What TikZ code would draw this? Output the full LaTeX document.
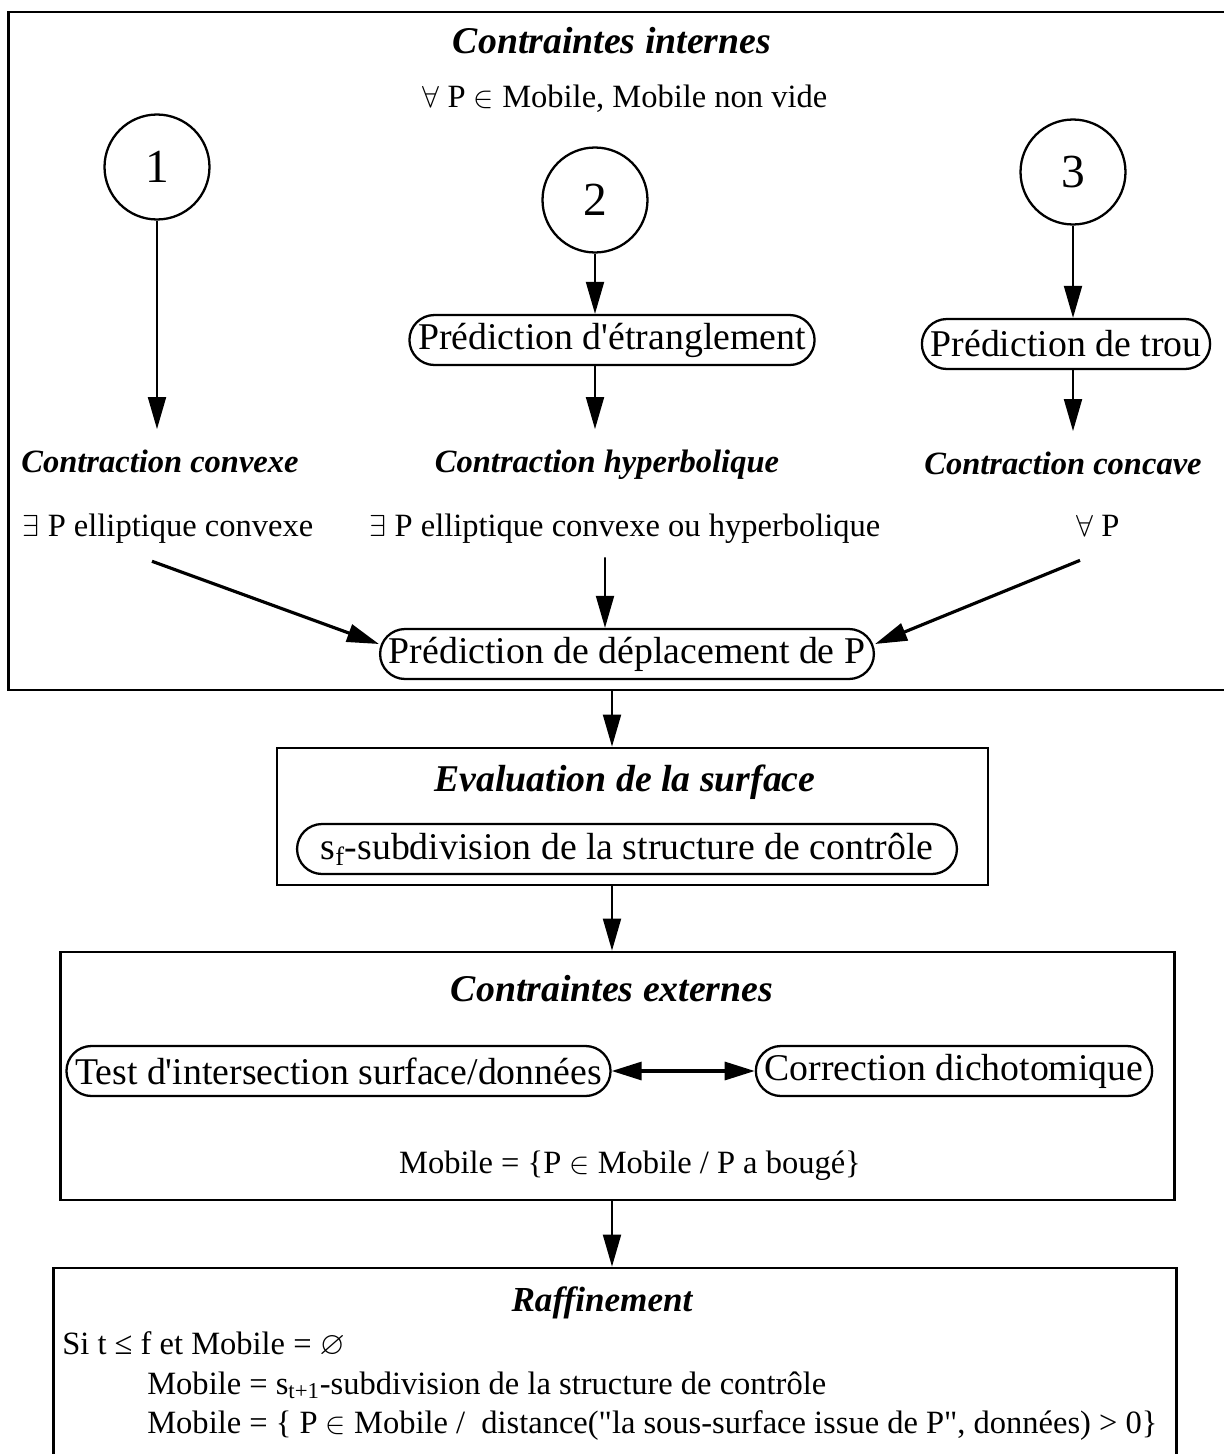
\documentclass[tikz,border=0pt]{standalone}
\usepackage{amssymb}
\usepackage{fontspec}
\setmainfont{Liberation Serif}
\usetikzlibrary{arrows.meta}
\newcommand{\dgfont}{\fontsize{21.5}{26}\selectfont}
\newcommand{\dgsmall}{\fontsize{18.5}{22}\selectfont}

\begin{document}
\begin{tikzpicture}[x=0.02cm,y=-0.02cm,
  every node/.style={font=\dgfont},
  frame/.style={draw,line width=1.6pt,inner sep=0pt},
  numcirc/.style={draw,circle,line width=1.3pt,minimum size=2.1cm,inner sep=0pt,font=\fontsize{27}{30}\selectfont},
  pill/.style={draw,rounded corners=0.5cm,line width=1.3pt,minimum height=1cm,inner xsep=5pt,inner ysep=0pt},
  head/.style={font=\dgfont\bfseries\itshape},
  smallhead/.style={font=\dgsmall\bfseries\itshape},
  txt/.style={inner sep=0pt,anchor=base},
  small/.style={font=\dgsmall},
  flow/.style={line width=1.1pt,-{Triangle[length=0.64cm,width=0.36cm]}},
  heavyflow/.style={flow,line width=1.8pt},
  twoway/.style={line width=1.8pt,{Triangle[length=0.6cm,width=0.36cm]}-{Triangle[length=0.6cm,width=0.36cm]}}]
\useasboundingbox (0,0) rectangle (1224,1454);
\coordinate (axis) at (612,0);

% contraintes internes
\node[frame,minimum width=24.64cm,minimum height=13.56cm] (fInt) at (624,351) {};
\node[txt,head] (tInt) at (612,53) {Contraintes internes};
\node[txt,small] (all) at (625,107) {$\forall$ P $\in$ Mobile, Mobile non vide};
\node[numcirc] (c1) at (157,167) {1};
\node[numcirc] (c2) at (595,200) {2};
\node[numcirc] (c3) at (1073,172) {3};
\node[pill] (etr) at (612,340) {Prédiction d\textquotesingle étranglement};
\node[pill] (trou) at (1066,344) {Prédiction de trou};
\node[txt,smallhead] (cvx) at (160,472) {Contraction convexe};
\node[txt,smallhead] (hyp) at (607,472) {Contraction hyperbolique};
\node[txt,smallhead] (ccv) at (1063,474) {Contraction concave};
\node[txt,small] (ex1) at (168,536) {$\exists$ P elliptique convexe};
\node[txt,small] (ex2) at (625,536) {$\exists$ P elliptique convexe ou hyperbolique};
\node[txt,small] (fa) at (1098,536) {$\forall$ P};
\node[pill] (depl) at (627,654) {Prédiction de déplacement de P};

\draw[flow,shorten >=0.4cm] (c1.south) -- (c1 |- cvx.north);
\draw[flow] (c2.south) -- (c2.south |- etr.north);
\draw[flow,shorten >=0.4cm] (etr.south -| c2) -- (c2 |- hyp.north);
\draw[flow] (c3.south) -- (c3.south |- trou.north);
\draw[flow,shorten >=0.4cm] (trou.south -| c3) -- (c3 |- ccv.north);
\draw[heavyflow] ([xshift=-0.32cm,yshift=-0.36cm]ex1.south) -- ([yshift=0.2cm]depl.west);
\draw[flow] ([xshift=-0.4cm,yshift=-0.28cm]ex2.south) -- ([xshift=-0.44cm]depl.north);
\draw[heavyflow] ([xshift=-0.36cm,yshift=-0.48cm]fa.south) -- ([yshift=0.2cm]depl.east);

% evaluation
\node[frame,minimum width=14.22cm,minimum height=2.74cm] (fEval) at (632.5,816.5) {};
\node[txt,head] (tEval) at (625,791) {Evaluation de la surface};
\node[pill,minimum width=13.2cm] (sub) at (627,849) {s\textsubscript{f}-subdivision de la structure de contrôle};

% contraintes externes
\node[frame,minimum width=22.3cm,minimum height=4.96cm] (fExt) at (617.5,1076) {};
\node[txt,head] (tExt) at (612,1001) {Contraintes externes};
\node[pill] (test) at (338.5,1071) {Test d\textquotesingle intersection surface/données};
\node[pill] (corr) at (954,1071) {Correction dichotomique};
\node[txt,small] (mob) at (630,1173) {Mobile = \{P $\in$ Mobile / P a bougé\}};
\draw[twoway] (test.east) -- (corr.west);

% raffinement
\node[frame,minimum width=22.48cm,minimum height=4.24cm] (fRaf) at (615,1374) {};
\node[txt,font=\fontsize{20}{24}\selectfont\bfseries\itshape] (tRaf) at (602,1311) {Raffinement};
\node[txt,small,anchor=base west] (r1) at (62,1354) {Si t ≤ f et Mobile = $\varnothing$};
\node[txt,small,anchor=base west] (r2) at (147,1394) {Mobile = s\textsubscript{t+1}-subdivision de la structure de contrôle};
\node[txt,small,anchor=base west] (r3) at (147,1433) {Mobile = \{ P $\in$ Mobile /\ \ distance(\textquotedbl la sous-surface issue de P\textquotedbl, données) > 0\}};

\draw[flow] (fInt.south -| axis) -- (fEval.north -| axis);
\draw[flow] (fEval.south -| axis) -- (fExt.north -| axis);
\draw[flow] (fExt.south -| axis) -- (fRaf.north -| axis);
\end{tikzpicture}
\end{document}
